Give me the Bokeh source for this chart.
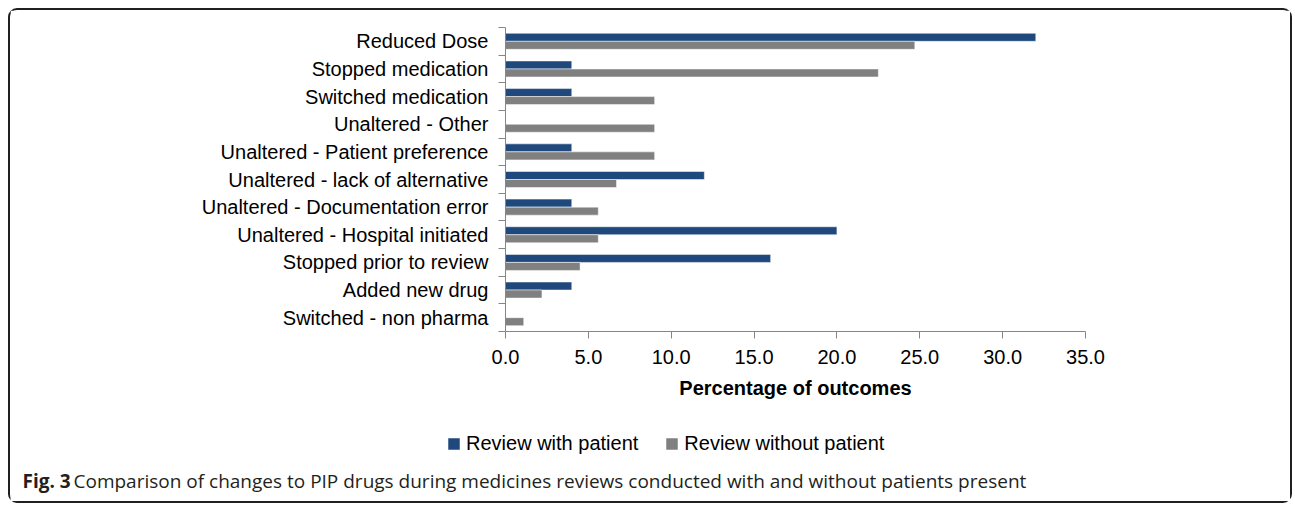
from bokeh.plotting import figure
from bokeh.models import (Range1d, FixedTicker, NumeralTickFormatter, Legend,
                          LegendItem, ColumnDataSource, Label)
from bokeh.layouts import column
from bokeh.transform import dodge
from bokeh.embed import file_html
from bokeh.resources import INLINE

# ---------------- data ----------------
categories = [
    "Reduced Dose",
    "Stopped medication",
    "Switched medication",
    "Unaltered - Other",
    "Unaltered - Patient preference",
    "Unaltered - lack of alternative",
    "Unaltered - Documentation error",
    "Unaltered - Hospital initiated",
    "Stopped prior to review",
    "Added new drug",
    "Switched - non pharma",
]
with_patient = [32.0, 4.0, 4.0, 0.0, 4.0, 12.0, 4.0, 20.0, 16.0, 4.0, 0.0]
without_patient = [24.7, 22.5, 9.0, 9.0, 9.0, 6.7, 5.6, 5.6, 4.5, 2.2, 1.1]
series_names = ["Review with patient", "Review without patient"]
x_ticks = [0, 5, 10, 15, 20, 25, 30, 35]
x_title = "Percentage of outcomes"
caption_bold = "Fig. 3"
caption_text = ("Comparison of changes to PIP drugs during medicines reviews "
                "conducted with and without patients present")

# ---------------- styling ----------------
BLUE = "#1F497D"
GREY = "#808080"
AXIS = "#868686"
FONT = "Liberation Sans"
CAP_FONT = "Open Sans"
W = 1280
H_MAIN = 420
H_FOOT = 71

n = len(categories)
ypos = [n - i - 0.5 for i in range(n)]
source = ColumnDataSource(dict(cat=categories, y=ypos,
                               w=with_patient, wo=without_patient))

# ---------------- main chart ----------------
p = figure(width=W, height=H_MAIN, x_range=Range1d(0, 35), y_range=Range1d(0, n),
           output_backend="svg", toolbar_location=None,
           min_border_left=495, min_border_right=205,
           min_border_top=17, min_border_bottom=H_MAIN - 321)
p.frame_align = False
p.outline_line_color = None
p.xgrid.visible = False
p.ygrid.visible = False
p.background_fill_color = "white"
p.border_fill_color = "white"

bh = 0.29
bar_kw = dict(left=0, height=bh, source=source, line_color="white", line_width=0.5)
r1 = p.hbar(y=dodge("y", 0.145, range=p.y_range), right="w", fill_color=BLUE, **bar_kw)
r2 = p.hbar(y=dodge("y", -0.145, range=p.y_range), right="wo", fill_color=GREY, **bar_kw)

xa = p.xaxis[0]
xa.ticker = FixedTicker(ticks=x_ticks, minor_ticks=[])
xa.formatter = NumeralTickFormatter(format="0.0")
xa.axis_line_color = AXIS
xa.major_tick_line_color = AXIS
xa.major_tick_out = 7
xa.major_tick_in = 0
xa.minor_tick_line_color = None
xa.major_label_text_font = FONT
xa.major_label_text_font_size = "20px"
xa.major_label_text_color = "black"
xa.major_label_standoff = 11
xa.axis_label = x_title
xa.axis_label_text_font = FONT
xa.axis_label_text_font_size = "20px"
xa.axis_label_text_font_style = "bold"
xa.axis_label_text_color = "black"
xa.axis_label_standoff = 10

ya = p.yaxis[0]
ya.ticker = FixedTicker(ticks=ypos, minor_ticks=list(range(n + 1)))
ya.major_label_overrides = {y: c for y, c in zip(ypos, categories)}
ya.axis_line_color = AXIS
ya.major_tick_line_color = None
ya.major_tick_out = 0
ya.major_tick_in = 0
ya.minor_tick_line_color = AXIS
ya.minor_tick_out = 7
ya.minor_tick_in = 0
ya.major_label_text_font = FONT
ya.major_label_text_font_size = "20px"
ya.major_label_text_color = "black"
ya.major_label_standoff = 10

# ---------------- footer: legend + caption ----------------
f = figure(width=W, height=H_FOOT, x_range=Range1d(0, W), y_range=Range1d(0, H_FOOT),
           output_backend="svg", toolbar_location=None,
           x_axis_location=None, y_axis_location=None,
           min_border=0, min_border_left=0, min_border_right=0,
           min_border_top=0, min_border_bottom=0)
f.frame_align = False
f.outline_line_color = None
f.xgrid.visible = False
f.ygrid.visible = False
f.background_fill_color = "white"
f.border_fill_color = "white"

# legend proxies: same series glyphs, hidden in the footer
l1 = f.hbar(y="y", right="w", left=0, height=bh, source=source,
            fill_color=BLUE, line_color="white", line_width=0.5, visible=False)
l2 = f.hbar(y="y", right="wo", left=0, height=bh, source=source,
            fill_color=GREY, line_color="white", line_width=0.5, visible=False)

legend = Legend(items=[LegendItem(label=series_names[0], renderers=[l1]),
                       LegendItem(label=series_names[1], renderers=[l2])],
                orientation="horizontal", location=(436, 46))
legend.border_line_color = None
legend.background_fill_alpha = 0
legend.inactive_fill_alpha = 0
legend.padding = 0
legend.margin = 0
legend.spacing = 26
legend.glyph_width = 15
legend.glyph_height = 15
legend.label_standoff = 5
legend.label_height = 20
legend.label_text_font = FONT
legend.label_text_font_size = "20px"
legend.label_text_color = "black"
legend.click_policy = "none"
f.add_layout(legend)

cap1 = Label(x=12, y=21, x_units="screen", y_units="screen", text=caption_bold,
             text_font=CAP_FONT, text_font_style="bold", text_font_size="19px",
             text_baseline="alphabetic", text_color="#231f20")
cap2 = Label(x=63, y=21, x_units="screen", y_units="screen", text=caption_text,
             text_font=CAP_FONT, text_font_size="19px",
             text_baseline="alphabetic", text_color="#231f20")
f.add_layout(cap1)
f.add_layout(cap2)

layout = column(p, f, spacing=0,
                styles={"border": "2px solid #231f20", "border-radius": "9px",
                        "margin-left": "8px", "margin-top": "8px",
                        "background-color": "white"})

open("out.html", "w").write(file_html(layout, INLINE))
